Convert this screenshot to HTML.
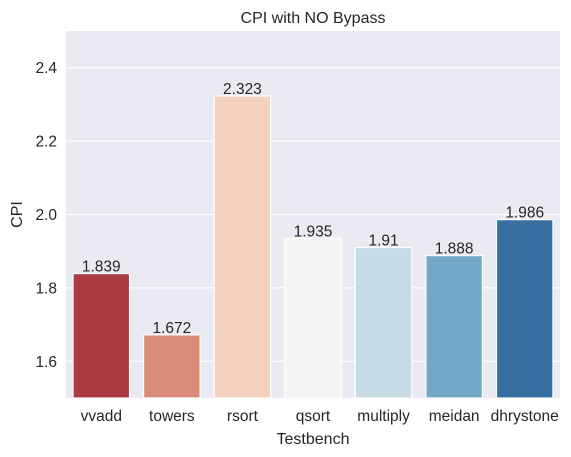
<!DOCTYPE html>
<html><head><meta charset="utf-8"><style>
body{margin:0;background:#fff;}
svg{display:block;font-family:"Liberation Sans","DejaVu Sans",sans-serif;}
</style></head><body>
<svg id="chart" width="571" height="457" viewBox="0 0 571 457"></svg>
<script>
const categories=["vvadd","towers","rsort","qsort","multiply","meidan","dhrystone"];
const values=[1.839,1.672,2.323,1.935,1.91,1.888,1.986];
const valueLabels=["1.839","1.672","2.323","1.935","1.91","1.888","1.986"];
const colors=["#ab3a42","#d98b77","#f3d1bd","#f5f4f3","#c5dce7","#74a8c7","#386fa2"];
const yTicks=[1.6,1.8,2.0,2.2,2.4];
const yTickLabels=["1.6","1.8","2.0","2.2","2.4"];
const L=66,R=560,T=31,B=398,yMin=1.5,yMax=2.5;
const ns="http://www.w3.org/2000/svg";
const svg=document.getElementById('chart');
function y(v){return B-(v-yMin)/(yMax-yMin)*(B-T);}
const step=(R-L)/categories.length;
function x(i){return L+step*(i+0.5);}
function mk(t,a,p){const e=document.createElementNS(ns,t);for(const k in a)e.setAttribute(k,a[k]);(p||svg).appendChild(e);return e;}
const bg=mk('rect',{x:L,y:T,width:R-L,height:B-T,fill:'#eaeaf2'});


yTicks.forEach((v,i)=>{
  const g=mk('line',{x1:L,x2:R,y1:y(v),y2:y(v),stroke:'#fff','stroke-width':1.2});
  
  
  const t=mk('text',{x:L-9,y:y(v)+5.5,'text-anchor':'end','font-size':15.5,fill:'#262626'});
  t.textContent=yTickLabels[i];
  
  
});
categories.forEach((c,i)=>{
  const bw=step*0.8;
  const r=mk('rect',{x:x(i)-bw/2,y:y(values[i]),width:bw,height:B-y(values[i]),fill:colors[i],stroke:'#fff','stroke-width':1.2});
  
  
  const vl=mk('text',{x:x(i),y:y(values[i])-2,'text-anchor':'middle','font-size':15.5,fill:'#262626'});
  vl.textContent=valueLabels[i];
  
  
  const xl=mk('text',{x:x(i),y:B+23,'text-anchor':'middle','font-size':15.5,fill:'#262626'});
  xl.textContent=c;
  
  
});
const ti=mk('text',{x:(L+R)/2,y:23,'text-anchor':'middle','font-size':16,fill:'#262626'});
ti.textContent='CPI with NO Bypass';


const xt=mk('text',{x:(L+R)/2,y:444,'text-anchor':'middle','font-size':16,fill:'#262626'});
xt.textContent='Testbench';


const yt=mk('text',{x:22,y:(T+B)/2,'text-anchor':'middle','font-size':16,fill:'#262626',transform:'rotate(-90 22 '+((T+B)/2)+')'});
yt.textContent='CPI';


</script>
</body></html>
